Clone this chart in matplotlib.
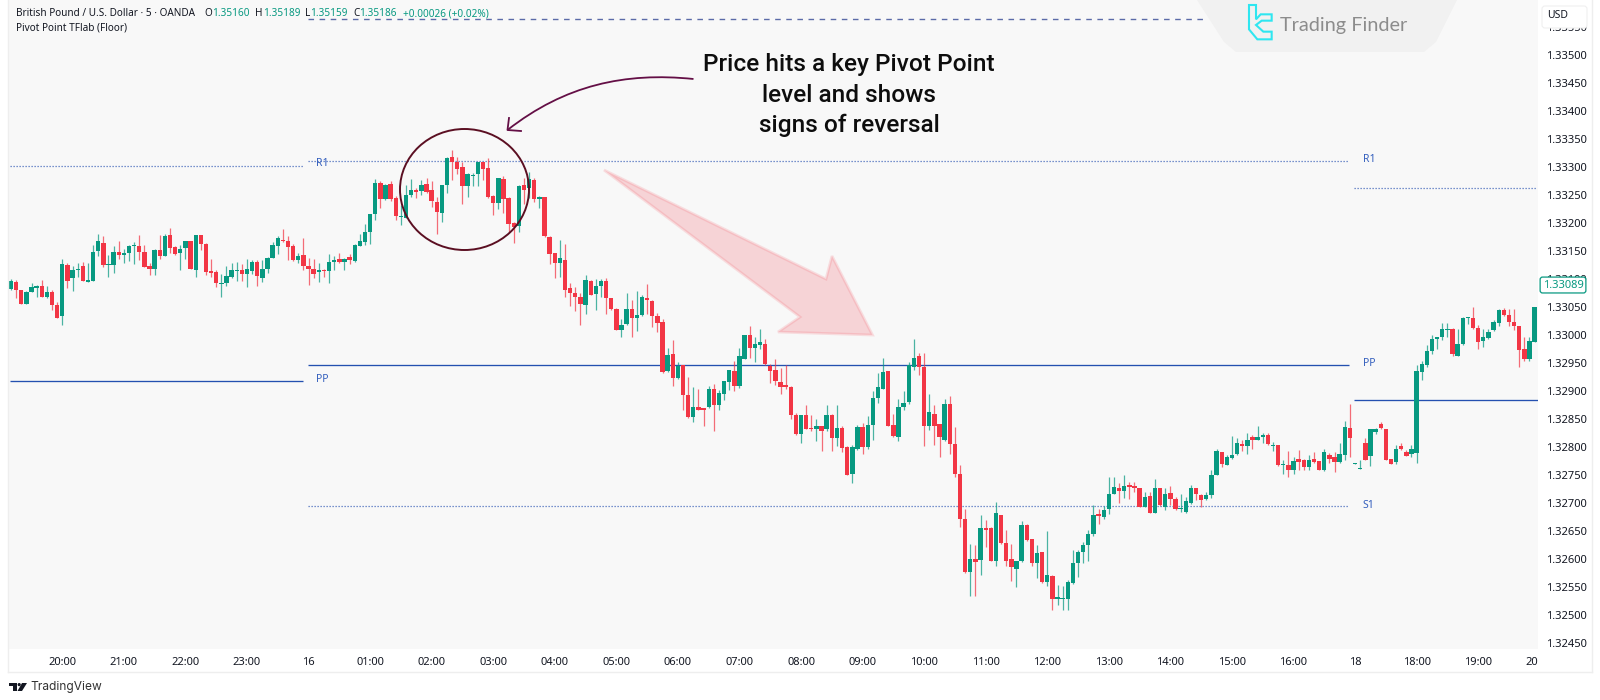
import matplotlib
matplotlib.use("Agg")
import matplotlib.pyplot as plt
from matplotlib.patches import Polygon, Ellipse, PathPatch, Rectangle, Circle, FancyBboxPatch
from matplotlib.path import Path
from matplotlib.lines import Line2D
import numpy as np

plt.rcParams['font.family'] = ['Noto Sans', 'DejaVu Sans']

BASE_PRICE = 1.33
POINT = 0.00001

up_flags = ("UDDUUUDUDD" "UDUUDUUUDU" "UDUUUDDDUD" "UDDUUDUDDD" "DUUUUDUUDU"
            "UUUDDDUDDD" "UDUUDUDUUU" "UUDUDDUUUD" "UDDDUUDDDU" "UUDDDUDDDU"
            "DUDUDDDUDD" "DDUDUUDDDU" "UDUUDDDDUD" "UDDUDDUDUU" "UDUUDUUDDD"
            "DDDDUDDUDU" "DUDDUUDUUU" "UDDUUUUDDU" "DDUDDDDUDU" "DDUDDDUUDD"
            "UDUDUUUUUU" "UUDUUUDUDD" "DUDUDUDDUU" "UDDUUUDUUU" "DUDUUDUDUD"
            "UDDUDDUDDU" "UDUUDUUDDD" "UDDUUUUUUU" "UDUUUDDUUU" "UDDDDDUU")

highs = [
    99,98,81,79,93,89,98,88,80,58, 136,128,123,128,130,128,160,181,177,143,
    158,167,154,161,165,178,160,128,153,178, 181,190,159,161,168,168,179,179,164,136,
    115,109,123,128,130,127,135,133,134,134, 139,165,176,189,177,162,146,173,137,135,
    128,118,144,140,147,138,145,162,180,198, 216,278,274,269,274,248,232,268,278,262,
    276,281,275,247,268,317,330,317,309,289, 289,309,309,316,249,280,284,247,202,268,
    281,290,281,248,247,176,147,170,162,92, 85,74,107,98,100,100,101,66,48,29,
    75,62,78,71,90,62,39,28,-23,-10, -49,-54,-76,-93,-96,-130,-92,-88,-99,-82,
    -63,-46,-23,0,15,-4,10,-7,-52,-44, -59,-53,-92,-140,-144,-125,-143,-150,-162,-125,
    -142,-125,-163,-199,-196,-161,-157,-145,-101,-69, -41,-64,-141,-114,-101,-49,-7,-32,-32,-106,
    -126,-160,-114,-109,-164,-233,-311,-373,-376,-322, -331,-344,-298,-322,-349,-374,-403,-332,-337,-364,
    -375,-388,-350,-429,-447,-448,-438,-384,-384,-370, -348,-303,-311,-306,-254,-254,-264,-251,-263,-263,
    -273,-280,-280,-258,-273,-274,-270,-289,-285,-289, -269,-273,-285,-280,-241,-204,-209,-215,-181,-185,
    -188,-176,-179,-162,-175,-176,-191,-197,-224,-207, -219,-205,-221,-215,-210,-226,-204,-211,-209,-194,
    -154,-123,-229,-224,-185,-168,-166,-155,-168,-222, -197,-194,-206,-196,-53,-47,-19,-1,-3,22,
    21,12,11,32,32,50,17,11,11,27, 47,48,47,47,16,-4,-4,50,
]
body_tops = [
    96,95,80,76,86,88,88,77,77,54, 126,124,115,118,123,98,148,167,164,127,
    148,148,146,158,159,159,148,123,152,151, 177,178,157,153,167,167,178,178,163,114,
    112,93,106,115,116,115,118,131,130,118, 137,160,173,169,168,158,141,142,123,118,
    115,115,130,134,135,136,139,161,167,184, 216,271,271,268,269,244,212,250,259,259,
    268,270,258,238,267,316,317,308,299,287, 286,308,308,298,248,280,278,244,199,266,
    268,278,277,247,246,174,146,137,134,83, 74,67,98,97,87,96,97,65,47,18,
    47,47,36,67,66,60,34,23,-36,-34, -56,-54,-107,-128,-128,-131,-96,-96,-103,-82,
    -63,-65,-38,0,-1,-17,-12,-17,-55,-62, -85,-90,-93,-144,-144,-144,-166,-162,-163,-144,
    -143,-166,-167,-200,-200,-165,-165,-161,-112,-94, -66,-65,-161,-129,-122,-53,-41,-38,-57,-138,
    -141,-160,-123,-123,-195,-248,-328,-401,-401,-345, -345,-345,-319,-322,-371,-401,-404,-340,-340,-365,
    -389,-388,-428,-430,-469,-471,-442,-407,-387,-376, -356,-321,-320,-313,-285,-271,-273,-270,-268,-270,
    -273,-289,-288,-274,-274,-285,-283,-293,-310,-296, -274,-274,-286,-286,-251,-207,-210,-218,-214,-194,
    -195,-187,-183,-183,-178,-179,-198,-197,-231,-232, -225,-221,-224,-224,-221,-226,-210,-214,-219,-213,
    -165,-166,-229,-238,-193,-169,-168,-160,-168,-222, -203,-199,-210,-203,-64,-52,-29,-8,-4,10,
    10,11,-16,31,31,31,12,-4,5,23, 45,44,36,23,15,-25,-11,50,
]
body_bottoms = [
    82,80,56,56,77,84,68,67,54,31, 34,97,101,115,97,95,97,150,124,125,
    125,143,143,147,158,148,122,117,118,140, 141,155,145,146,155,118,116,162,113,111,
    93,90,93,103,114,109,109,114,106,102, 118,138,159,167,157,133,134,123,118,109,
    112,114,114,130,130,131,134,132,159,165, 184,215,242,242,242,213,211,209,249,256,
    257,255,239,220,217,268,308,297,265,265, 284,287,296,247,236,236,242,198,192,195,
    259,262,243,243,176,145,129,129,81,74, 67,55,54,72,73,87,66,47,9,9,
    19,31,31,35,63,34,21,-66,-65,-77, -77,-108,-147,-147,-134,-134,-129,-125,-125,-105,
    -84,-92,-91,-43,-24,-24,-19,-52,-64,-82, -94,-94,-144,-177,-177,-168,-169,-169,-171,-169,
    -184,-184,-202,-250,-249,-203,-201,-201,-161,-112, -96,-163,-181,-182,-129,-120,-57,-57,-163,-163,
    -163,-182,-188,-195,-249,-328,-424,-424,-405,-402, -348,-403,-404,-372,-403,-415,-418,-404,-366,-408,
    -407,-442,-442,-472,-472,-472,-472,-444,-408,-388, -376,-356,-323,-326,-311,-284,-279,-279,-271,-274,
    -307,-307,-318,-318,-304,-307,-294,-311,-311,-316, -301,-285,-295,-294,-286,-250,-231,-232,-220,-213,
    -199,-199,-187,-188,-183,-195,-199,-233,-233,-242, -242,-227,-236,-236,-227,-242,-242,-221,-227,-227,
    -214,-185,-230,-239,-223,-216,-173,-166,-223,-230, -227,-204,-216,-213,-211,-66,-54,-28,-7,-3,
    9,-34,-37,-16,30,12,-12,-11,-5,8, 22,35,23,15,-27,-44,-44,-12,
]
lows = [
    80,65,55,55,76,67,67,65,45,30, 17,84,79,103,96,94,96,140,122,104,
    110,135,128,132,126,133,121,107,107,136, 140,147,142,115,135,117,104,151,107,104,
    86,67,87,102,96,96,86,109,88,94, 110,137,145,165,134,132,129,116,89,101,
    95,103,92,116,129,116,126,131,158,161, 162,205,227,241,239,206,196,208,247,244,
    250,253,228,180,202,254,276,287,234,247, 265,265,277,245,214,225,217,183,164,184,
    234,244,238,226,174,127,101,104,68,52, 43,17,38,71,45,68,38,45,8,-3,
    18,-3,7,34,38,14,5,-68,-66,-92, -78,-135,-149,-156,-135,-163,-131,-171,-134,-117,
    -98,-101,-95,-44,-41,-49,-25,-53,-86,-90, -105,-96,-150,-178,-194,-169,-171,-190,-207,-171,
    -207,-198,-209,-251,-264,-205,-213,-203,-187,-121, -97,-163,-182,-189,-134,-123,-63,-72,-198,-170,
    -197,-218,-189,-213,-254,-344,-425,-466,-466,-428, -379,-404,-413,-374,-412,-439,-450,-405,-368,-413,
    -434,-444,-448,-491,-483,-491,-492,-445,-432,-408, -404,-360,-337,-328,-320,-285,-301,-292,-293,-280,
    -308,-308,-319,-319,-306,-312,-304,-313,-316,-318, -302,-295,-307,-295,-292,-251,-236,-233,-221,-215,
    -208,-212,-203,-188,-194,-196,-207,-235,-249,-254, -248,-241,-242,-242,-228,-242,-243,-228,-245,-228,
    -223,-219,-230,-239,-224,-234,-177,-168,-224,-231, -231,-205,-217,-219,-228,-81,-57,-35,-25,-9,
    -3,-38,-37,-18,20,11,-25,-21,-7,7, 16,33,16,8,-57,-46,-46,-13,
]

r1_left = 1.33302
r1_mid = 1.33310
r1_right = 1.33262
pp_left = 1.32917
pp_mid = 1.32947
pp_right = 1.32883
s1_mid = 1.32694
upper_dashed = 1.33564

price_ticks = [1.33550, 1.33500, 1.33450, 1.33400, 1.33350, 1.33300, 1.33250, 1.33200, 1.33150,
               1.33100, 1.33050, 1.33000, 1.32950, 1.32900, 1.32850, 1.32800, 1.32750, 1.32700,
               1.32650, 1.32600, 1.32550, 1.32500, 1.32450]
time_labels = ["20:00", "21:00", "22:00", "23:00", "16", "01:00", "02:00", "03:00", "04:00", "05:00",
               "06:00", "07:00", "08:00", "09:00", "10:00", "11:00", "12:00", "13:00", "14:00", "15:00",
               "16:00", "18", "18:00", "19:00", "20"]
last_price = 1.33089

GREEN = "#089981"
RED = "#F23645"
INK = "#131722"
BLUE = "#2450B0"

fig = plt.figure(figsize=(16, 7), dpi=100, facecolor="white")
ax = fig.add_axes([8 / 1600, 51 / 700, 1530 / 1600, 649 / 700], facecolor="#F8F8F8")

to_price = lambda values: BASE_PRICE + np.asarray(values, dtype=float) * POINT
h, t, b, l = map(to_price, (highs, body_tops, body_bottoms, lows))
x = np.arange(len(highs))
is_up = np.array([c == "U" for c in up_flags])
colors = np.where(is_up, GREEN, RED)

dot = (0, (1, 1.4))
ax.hlines(r1_left, -0.2, 57, color=BLUE, lw=0.9, ls=dot, alpha=0.8, zorder=1)
ax.hlines(r1_mid, 57.9, 260.8, color=BLUE, lw=0.9, ls=dot, alpha=0.8, zorder=1)
ax.hlines(r1_right, 261.8, 297.4, color=BLUE, lw=0.9, ls=dot, alpha=0.8, zorder=1)
ax.hlines(pp_left, -0.2, 57, color=BLUE, lw=0.95, zorder=1)
ax.hlines(pp_mid, 57.9, 260.8, color=BLUE, lw=0.95, zorder=1)
ax.hlines(pp_right, 261.8, 297.6, color=BLUE, lw=0.95, zorder=1)
ax.hlines(s1_mid, 57.9, 260.8, color=BLUE, lw=0.9, ls=dot, alpha=0.8, zorder=1)
ax.hlines(upper_dashed, 57.9, 232.7, color="#5B6BA8", lw=1.0, ls=(0, (4, 4)), zorder=1)

ax.vlines(x, l, h, colors=colors, lw=0.9, alpha=0.72, zorder=2)
ax.bar(x, np.maximum(t - b, 0.00002), bottom=b, width=0.85, color=colors, linewidth=0, zorder=3)

ax.set_xlim(-0.585, 297.66)
ax.set_ylim(1.32439, 1.33598)
ax.yaxis.tick_right()
ax.set_yticks(price_ticks)
ax.set_yticklabels([f"{p:.5f}" for p in price_ticks], fontsize=8, color=INK)
tick_idx = [10 + 12 * k for k in range(24)] + [296.4]
ax.set_xticks(tick_idx)
ax.set_xticklabels(time_labels, fontsize=8, color=INK)
for lbl, txt in zip(ax.get_xticklabels(), time_labels):
    if txt in ("16", "18", "20"):
        lbl.set_fontweight("bold")
ax.tick_params(axis="both", length=0, pad=0)
ax.tick_params(axis="y", pad=6)
ax.tick_params(axis="x", pad=6)
for s in ax.spines.values():
    s.set_visible(False)

ax.annotate(f"{last_price:.5f}", xy=(1.0, last_price), xycoords=("axes fraction", "data"),
            xytext=(25 * 0.72, 0), textcoords="offset points", ha="center", va="center",
            fontsize=8, color=GREEN, zorder=20, annotation_clip=False,
            bbox=dict(boxstyle="round,pad=0.22", fc="white", ec=GREEN, lw=0.9))

ov = fig.add_axes([0, 0, 1, 1], facecolor="none", zorder=5)
ov.set_xlim(0, 1600)
ov.set_ylim(700, 0)
ov.axis("off")

ov.add_line(Line2D([8, 1592], [672, 672], color="#EEEEEE", lw=1))
ov.add_line(Line2D([1592, 1592], [0, 672], color="#EEEEEE", lw=1))
ov.add_line(Line2D([8, 8], [0, 672], color="#EEEEEE", lw=1))

hfs = 7.2
ov.text(16, 14, "British Pound / U.S. Dollar · 5 · OANDA", fontsize=hfs, color=INK, va="center")
for px, letter, val, off in [(204, "O", "1.35160", 8), (255, "H", "1.35189", 8),
                             (305, "L", "1.35159", 5), (353, "C", "1.35186", 6)]:
    ov.text(px, 14, letter, fontsize=hfs, color=INK, va="center")
    ov.text(px + off, 14, val, fontsize=hfs, color=GREEN, va="center")
ov.text(403, 14, "+0.00026 (+0.02%)", fontsize=hfs, color=GREEN, va="center")
ov.text(16, 28, "Pivot Point TFlab (Floor)", fontsize=hfs, color=INK, va="center")

for px, py, s in [(322, 164, "R1"), (322, 380, "PP"), (1369, 160, "R1"), (1369, 363.5, "PP"), (1368, 505, "S1")]:
    ov.text(px, py, s, fontsize=7.5, color="#3560BE", ha="center", va="center")

ov.add_patch(Polygon([(604, 170), (826, 279), (832, 256), (872.5, 335), (778, 332), (800, 317)], closed=True,
                     facecolor=(0.949, 0.212, 0.271, 0.19), edgecolor=(0.949, 0.212, 0.271, 0.14), lw=2))

MAROON = "#5B0F22"
ov.add_patch(Ellipse((464.5, 189.5), 129, 121, fill=False, ec=MAROON, lw=1.4))
PLUM = "#640F46"
verts = [(693.5, 79), (625, 72), (565, 85), (507.5, 130)]
ov.add_patch(PathPatch(Path(verts, [Path.MOVETO, Path.CURVE4, Path.CURVE4, Path.CURVE4]),
                       fill=False, ec=PLUM, lw=1.3))
ov.add_line(Line2D([509, 507.5, 521], [118, 130, 131], color=PLUM, lw=1.3))

for py, s in [(65, "Price hits a key Pivot Point"), (95, "level and shows"), (125, "signs of reversal")]:
    ov.text(849, py, s, fontsize=17.6, family=["Roboto", "DejaVu Sans"], fontweight="medium",
            color="#0D0D0D", ha="center", va="center")

ov.add_patch(Polygon([(1197, 0), (1457, 0), (1436, 42), (1424, 52), (1236, 52), (1224, 42)], closed=True,
                     facecolor="#F1F1F1", edgecolor="none"))
logo = [(237, 15), (258, 15), (258, 58), (272, 43), (305, 43), (305, 62), (275, 62), (258, 75),
        (280, 95), (305, 95), (305, 118), (262, 118), (237, 88)]
ov.add_patch(Polygon([(1170 + a / 3, c / 3) for a, c in logo], closed=True, fill=False, ec="#2FE6F0", lw=1.5))
ov.text(1280, 25, "Trading Finder", fontsize=14.3, color="#8C8C8C", va="center", family=["Lato", "DejaVu Sans"])

ov.add_patch(FancyBboxPatch((1542, 6), 45, 22, boxstyle="round,pad=0,rounding_size=3",
                            facecolor="white", edgecolor="#F0F0F0", lw=0.8))
ov.text(1558, 16, "USD", fontsize=7.5, color=INK, ha="center", va="center")

ov.add_patch(Rectangle((9, 683), 8, 3, color="#131722", lw=0))
ov.add_patch(Rectangle((12.5, 683), 4, 8, color="#131722", lw=0))
ov.add_patch(Circle((19.2, 684.6), 1.6, color="#131722", lw=0))
ov.add_patch(Polygon([(22, 683), (27, 683), (22, 691), (17.5, 691)], closed=True, color="#131722", lw=0))
ov.text(30, 687, "TradingView", fontsize=8.6, color="#333333", va="center", family=["Inter", "DejaVu Sans"])

fig.savefig("out.png", dpi=100, facecolor="white")
